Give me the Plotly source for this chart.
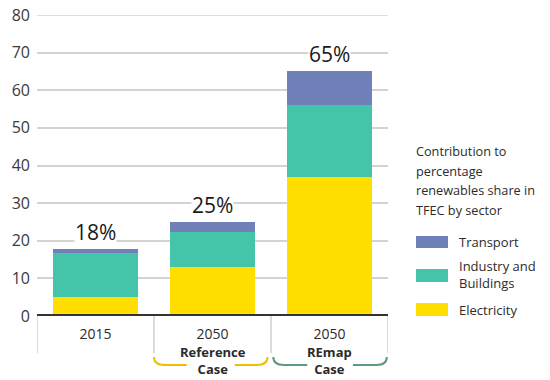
import plotly.graph_objects as go

# ---------------- data ----------------
categories = ["2015", "2050", "2050"]
case_labels = ["", "Reference<br>Case", "REmap<br>Case"]
electricity = [5.0, 13.0, 37.0]
industry = [11.7, 9.2, 19.0]
transport = [1.0, 2.8, 9.0]
total_labels = ["18%", "25%", "65%"]
y_ticks = [0, 10, 20, 30, 40, 50, 60, 70, 80]
series_names = ["Electricity", "Industry and<br>Buildings", "Transport"]
legend_title_lines = ["Contribution to", "percentage", "renewables share in", "TFEC by sector"]

# ---------------- style ----------------
C_ELEC = "#ffde00"
C_IND = "#44c5a9"
C_TRANS = "#6f81b8"
C_YEL = "#f0c000"
C_GRN = "#5c9c7d"
FONT = "Open Sans"
TXT = "#2b2b2b"

W, H = 550, 380
L, T = 37, 15
R = W - 388
B = H - 316
PW, PH = W - L - R, H - T - B

def px_x(px):
    return (px - L) / PW

def px_y(py):
    return (H - B - py) / PH

xs = list(range(len(categories)))
totals = [e + i + t for e, i, t in zip(electricity, industry, transport)]

fig = go.Figure()
for vals, col, name in [(electricity, C_ELEC, series_names[0]),
                        (industry, C_IND, series_names[1]),
                        (transport, C_TRANS, series_names[2])]:
    fig.add_trace(go.Bar(x=xs, y=vals, name=name, marker=dict(color=col, line=dict(width=0)),
                         width=0.72, showlegend=False, hoverinfo="skip"))

annotations = []
for x, tot, lab in zip(xs, totals, total_labels):
    annotations.append(dict(x=x, y=tot, xref="x", yref="y", text=lab, showarrow=False,
                            yanchor="bottom", yshift=2, bgcolor="white", borderpad=0,
                            font=dict(family=FONT, size=21, color="#1a1a1a")))

for x, lab in zip(xs, case_labels):
    if lab:
        annotations.append(dict(x=x, y=px_y(360), xref="x", yref="paper", text="<b>%s</b>" % lab,
                                showarrow=False, yanchor="middle",
                                font=dict(family=FONT, size=13, color=TXT)))

# legend title
for k, line in enumerate(legend_title_lines):
    annotations.append(dict(x=px_x(414), y=px_y(151 + 19.5 * k), xref="paper", yref="paper",
                            text=line, showarrow=False, xanchor="left", yanchor="middle",
                            font=dict(family=FONT, size=12.7, color=TXT)))

shapes = []
# legend swatches and labels
legend_items = [(C_TRANS, 236, 248, ["Transport"], [242]),
                (C_IND, 269, 282, ["Industry and", "Buildings"], [266, 283]),
                (C_ELEC, 303, 316, ["Electricity"], [310])]
for col, y0, y1, lines, ys in legend_items:
    shapes.append(dict(type="rect", xref="paper", yref="paper", x0=px_x(416), x1=px_x(448),
                       y0=px_y(y1), y1=px_y(y0), fillcolor=col, line=dict(width=0)))
    for line, yy in zip(lines, ys):
        annotations.append(dict(x=px_x(457), y=px_y(yy), xref="paper", yref="paper", text=line,
                                showarrow=False, xanchor="left", yanchor="middle",
                                font=dict(family=FONT, size=13, color=TXT)))

# vertical category dividers
for xv in [-0.5, 0.5, 1.5, 2.5]:
    shapes.append(dict(type="line", xref="x", yref="paper", x0=xv, x1=xv, y0=0, y1=px_y(353),
                       line=dict(color="#cfcfcf", width=1.5)))

# brackets
def bracket(x0, x1, g0, g1, col):
    yt, yb = px_y(357), px_y(365)
    p1 = "M %f,%f Q %f,%f %f,%f L %f,%f" % (x0, yt, x0, yb, x0 + 0.09, yb, g0, yb)
    p2 = "M %f,%f L %f,%f Q %f,%f %f,%f" % (g1, yb, x1 - 0.09, yb, x1, yb, x1, yt)
    for p in (p1, p2):
        shapes.append(dict(type="path", xref="x", yref="paper", path=p,
                           line=dict(color=col, width=2)))

bracket(0.5, 1.47, 0.78, 1.19, C_YEL)
bracket(1.52, 2.49, 1.81, 2.2, C_GRN)

# top gridline (80) drawn explicitly so it is never dropped at the range edge
shapes.append(dict(type="line", xref="paper", yref="y", x0=0, x1=1, y0=y_ticks[-1], y1=y_ticks[-1],
                   line=dict(color="#d3d3d3", width=1.5), layer="below"))
# thick zero baseline
shapes.append(dict(type="line", xref="paper", yref="y", x0=0, x1=1, y0=0, y1=0,
                   line=dict(color="#333333", width=4)))

fig.update_layout(
    width=W, height=H,
    margin=dict(l=L, r=R, t=T, b=B, autoexpand=False),
    paper_bgcolor="white", plot_bgcolor="white",
    barmode="stack",
    annotations=annotations,
    shapes=shapes,
    xaxis=dict(range=[-0.5, 2.5], tickvals=xs, ticktext=categories, showgrid=False,
               zeroline=False, showline=False, ticks="", ticklabelstandoff=8, automargin=False,
               tickfont=dict(family=FONT, size=14, color=TXT), fixedrange=True),
    yaxis=dict(range=[0, 80], tickvals=y_ticks, showgrid=True, gridcolor="#d3d3d3",
               gridwidth=1.5, zeroline=False, showline=False, ticks="", automargin=False,
               ticklabelstandoff=6, ticklabeloverflow="allow",
               tickfont=dict(family=FONT, size=16, color="#3a3a3a"),
               fixedrange=True),
    showlegend=False,
)

fig.write_html("out.html", config={"displayModeBar": False},
               post_script="document.body.style.margin='0';document.body.style.overflow='hidden';")
